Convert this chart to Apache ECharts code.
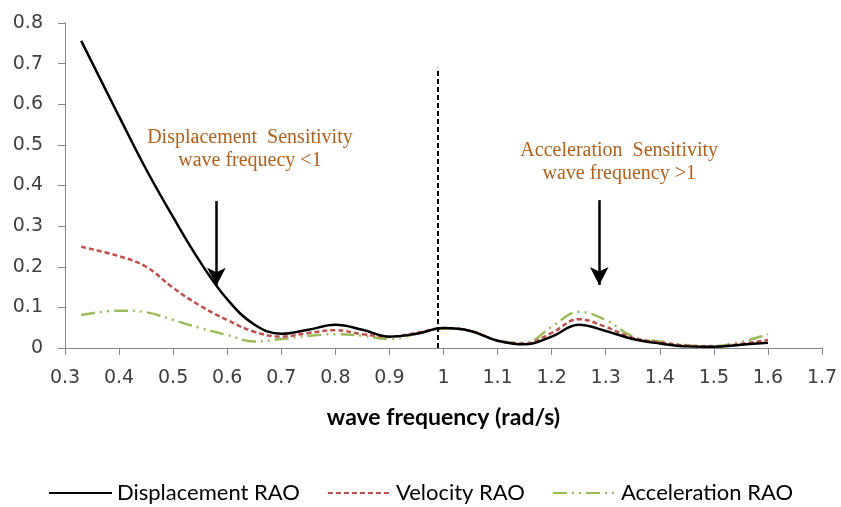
<!DOCTYPE html>
<html>
<head>
<meta charset="utf-8">
<script src="https://cdn.jsdelivr.net/npm/echarts@6/dist/echarts.min.js"></script>
<style>
  html, body { margin: 0; padding: 0; background: #fff; }
  #chart { width: 841px; height: 507px; }
</style>
</head>
<body>
<div id="chart"></div>
<script>
// wave frequency (rad/s)
const freq = [0.33, 0.4, 0.45, 0.5, 0.55, 0.6, 0.65, 0.7, 0.75, 0.8, 0.85, 0.9, 0.95, 1.0,
  1.05, 1.1, 1.15, 1.2, 1.25, 1.3, 1.35, 1.4, 1.45, 1.5, 1.55, 1.6]

const displacement = [0.756, 0.57, 0.44, 0.322, 0.212, 0.12, 0.058, 0.035, 0.045, 0.057, 0.045, 0.028, 0.035, 0.049,
  0.042, 0.018, 0.009, 0.028, 0.057, 0.042, 0.022, 0.011, 0.004, 0.003, 0.008, 0.013]
const velocity = [0.249, 0.226, 0.2, 0.148, 0.104, 0.069, 0.04, 0.028, 0.037, 0.044, 0.034, 0.028, 0.037, 0.049,
  0.042, 0.018, 0.011, 0.037, 0.071, 0.052, 0.025, 0.014, 0.006, 0.004, 0.01, 0.02]
const acceleration = [0.081, 0.092, 0.088, 0.069, 0.049, 0.032, 0.016, 0.022, 0.03, 0.034, 0.03, 0.022, 0.035, 0.048,
  0.042, 0.018, 0.013, 0.052, 0.089, 0.069, 0.028, 0.016, 0.007, 0.005, 0.015, 0.034]

// annotations (data space)
const splitLine = [[0.99, 0], [0.99, 0.69]]
const arrows = [
  [[0.58, 0.362], [0.58, 0.153]],
  [[1.288, 0.364], [1.288, 0.155]]
]
const notes = [
  { coord: [0.642, 0.49], text: 'Displacement  Sensitivity\nwave frequecy <1' },
  { coord: [1.325, 0.458], text: 'Acceleration  Sensitivity\nwave frequency >1' }
]

const pairs = (ys) => freq.map((x, i) => [x, ys[i]])

const axisFont = { fontFamily: 'DejaVu Sans', fontSize: 19, color: '#404040' }

const option = {
  animation: false,
  grid: { left: 65, right: 19, top: 23, bottom: 159, containLabel: false },
  legend: {
    bottom: -2,
    left: 'center',
    itemWidth: 63,
    itemHeight: 14,
    itemGap: 27,
    itemStyle: { opacity: 0 },
    textStyle: { fontFamily: 'Lato', fontSize: 22, color: '#000' },
    data: ['Displacement RAO', 'Velocity RAO', 'Acceleration RAO']
  },
  xAxis: {
    type: 'value',
    min: 0.3,
    max: 1.7,
    interval: 0.1,
    name: 'wave frequency (rad/s)',
    nameLocation: 'middle',
    nameGap: 58,
    nameTextStyle: { fontFamily: 'Lato', fontSize: 23, fontWeight: 'bold', color: '#000' },
    axisLine: { lineStyle: { color: '#868686', width: 1 } },
    axisTick: { show: true, length: 7, lineStyle: { color: '#868686' } },
    axisLabel: Object.assign({ margin: 21 }, axisFont),
    splitLine: { show: false }
  },
  yAxis: {
    type: 'value',
    min: 0,
    max: 0.8,
    interval: 0.1,
    axisLine: { show: true, lineStyle: { color: '#868686', width: 1 } },
    axisTick: { show: true, length: 7, lineStyle: { color: '#868686' } },
    axisLabel: Object.assign({ margin: 22 }, axisFont),
    splitLine: { show: false }
  },
  series: [
    {
      name: 'Displacement RAO',
      type: 'line',
      data: pairs(displacement),
      smooth: 0.4,
      symbol: 'none',
      z: 3,
      lineStyle: { color: '#000', width: 2.5 },
      itemStyle: { color: '#000' },
      markLine: {
        silent: true,
        symbol: ['none', 'none'],
        label: { show: false },
        lineStyle: { color: '#000', width: 2, type: [5, 3] },
        data: [[{ coord: splitLine[0] }, { coord: splitLine[1] }]]
      }
    },
    {
      name: 'Velocity RAO',
      type: 'line',
      data: pairs(velocity),
      smooth: 0.4,
      symbol: 'none',
      z: 2,
      lineStyle: { color: '#c0504d', width: 2.5, type: [5, 3] },
      itemStyle: { color: '#c0504d' },
      markLine: {
        silent: true,
        symbol: ['none', 'arrow'],
        symbolSize: [14, 18],
        label: { show: false },
        lineStyle: { color: '#000', width: 2.5, type: 'solid' },
        data: arrows.map(a => [{ coord: a[0] }, { coord: a[1] }])
      }
    },
    {
      name: 'Acceleration RAO',
      type: 'line',
      data: pairs(acceleration),
      smooth: 0.4,
      symbol: 'none',
      z: 1,
      lineStyle: { color: '#9bbb59', width: 2.5, type: [14, 5, 2, 5, 2, 5] },
      itemStyle: { color: '#9bbb59' },
      markPoint: {
        silent: true,
        symbol: 'circle',
        symbolSize: 0,
        label: {
          show: true,
          position: 'inside',
          align: 'center',
          fontFamily: 'Liberation Serif',
          fontSize: 20,
          lineHeight: 23,
          color: '#b0601e',
          formatter: p => p.data.text
        },
        data: notes.map(n => ({ coord: n.coord, text: n.text }))
      }
    }
  ]
}

const chart = echarts.init(document.getElementById('chart'))
chart.setOption(option)
</script>
</body>
</html>
